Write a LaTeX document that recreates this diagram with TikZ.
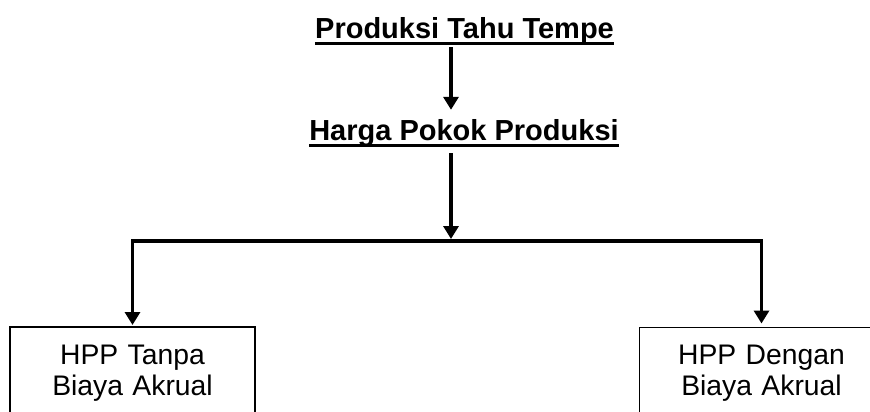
\documentclass[tikz,border=0pt]{standalone}
\usepackage{fontspec}
\setmainfont{Liberation Sans}
\usetikzlibrary{arrows.meta}
\begin{document}
\begin{tikzpicture}[x=1pt,y=-1pt,
  title/.style={font=\fontsize{29}{32}\selectfont\bfseries, inner xsep=0pt, inner ysep=2pt, anchor=base},
  uline/.style={line width=3pt},
  link/.style={line width=3.5pt},
  arr/.style={link, -{Triangle[length=13pt,width=15pt]}},
  box/.style={draw, font=\fontsize{28.3}{31}\selectfont, text width=245pt, inner xsep=0pt, inner ysep=18pt, align=center, anchor=north}]
\useasboundingbox (0,0) rectangle (870,412);
\clip (0,0) rectangle (870,412);
\node[title] (t1) at (464.5,39) {Produksi Tahu Tempe};
\node[title] (t2) at (464,140) {Harga Pokok Produksi};
\draw[uline] ([yshift=-4.5pt]t1.base west) -- ([yshift=-4.5pt]t1.base east);
\draw[uline] ([yshift=-5.5pt]t2.base west) -- ([yshift=-5.5pt]t2.base east);
\coordinate (j) at (451,241);
\node[box, line width=2pt] (b1) at (132.5,326) {HPP Tanpa\\Biaya Akrual};
\node[box, line width=1pt] (b2) at (761.5,327) {HPP Dengan\\Biaya Akrual};
\draw[arr, shorten >=7pt] (t1.south -| j) -- (t2.north -| j);
\draw[arr, shorten <=5pt, shorten >=2pt] (t2.south -| j) -- (j);
\draw[arr, shorten >=1pt] (j) -| (b1.north);
\draw[arr, shorten >=3.5pt] (j) -| (b2.north);
\end{tikzpicture}
\end{document}
